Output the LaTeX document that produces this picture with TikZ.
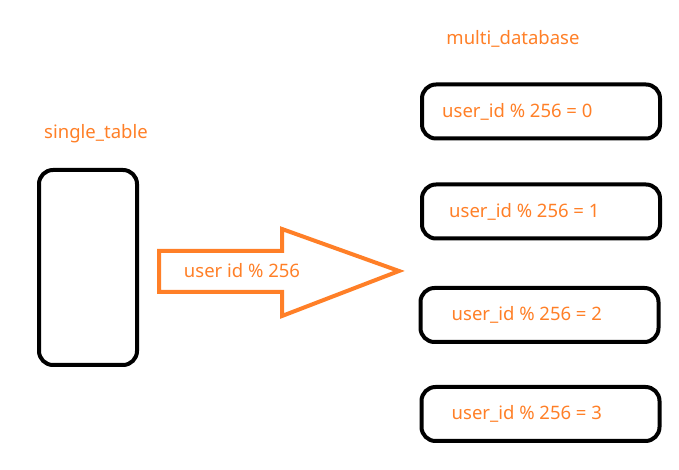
\documentclass[tikz,border=0pt]{standalone}
\usepackage{fontspec}
\setmainfont{Noto Sans}
\usepackage{xcolor}
\usetikzlibrary{positioning}
\definecolor{paintorange}{RGB}{255,127,39}

\begin{document}
\begin{tikzpicture}[
    x=1pt, y=1pt,
    font=\fontsize{18.5}{21}\selectfont,
    tablebox/.style={
        draw,
        line width=4pt,
        rounded corners=14pt,
        minimum width=98pt,
        minimum height=195pt
    },
    dbbox/.style={
        draw,
        line width=4pt,
        rounded corners=14pt,
        minimum width=238pt,
        minimum height=54pt
    },
    tag/.style={
        text=paintorange,
        inner sep=1pt
    },
    shardarrow/.style={
        draw=paintorange,
        line width=4pt,
        line join=miter
    }
]
\useasboundingbox (0,0) rectangle (679,470);

% Source table
\node[tablebox] (single) at (88,202.5) {};
\node[tag] (singlelabel) at (96,336) {single\_table};

% Sharding arrow
\coordinate (shaftA) at (159,219);
\coordinate (shaftB) at (282,219);
\coordinate (headA) at (282,241);
\coordinate (tip) at (399,199);
\coordinate (headB) at (282,154);
\coordinate (shaftC) at (282,178);
\coordinate (shaftD) at (159,178);
\draw[shardarrow] (shaftA) -- (shaftB) -- (headA) -- (tip)
    -- (headB) -- (shaftC) -- (shaftD) -- cycle;
\node[tag] (rule) at (242,199) {user id \% 256};

% Target databases
\node[tag] (multilabel) at (513,431) {multi\_database};
\node[dbbox] (db0) at (541,358.5) {};
\node[dbbox] (db1) at (541,258.5) {};
\node[dbbox] (db2) at (539.5,155) {};
\node[dbbox] (db3) at (540.5,56) {};

\node[tag, right=21pt of db0.west] (db0label) {user\_id \% 256 = 0};
\node[tag, right=28pt of db1.west] (db1label) {user\_id \% 256 = 1};
\node[tag, right=32pt of db2.west] (db2label) {user\_id \% 256 = 2};
\node[tag, right=31pt of db3.west] (db3label) {user\_id \% 256 = 3};

\end{tikzpicture}
\end{document}
